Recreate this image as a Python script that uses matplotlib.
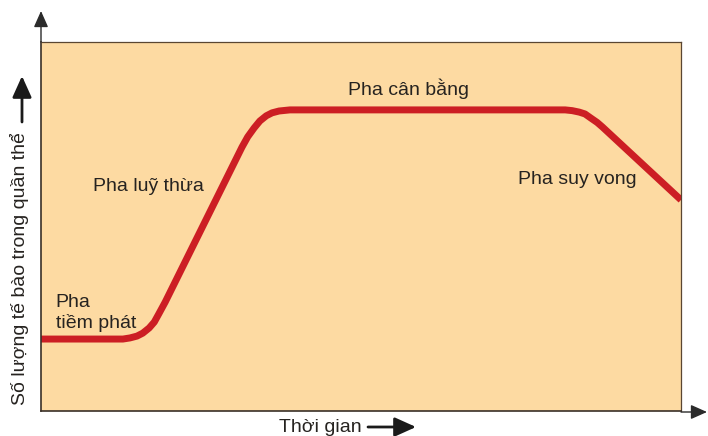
import matplotlib
matplotlib.use("Agg")
import matplotlib.pyplot as plt

# Growth curve of a bacterial population (time vs. cell count, arbitrary units 0-100)
time = [0.0, 12.8, 13.9, 15.0, 15.9, 16.9, 17.7, 18.4, 19.4,
        31.4, 32.3, 33.3, 34.2, 35.2, 36.1, 37.2, 38.9,
        81.9, 83.0, 84.1, 85.0, 85.9, 86.9, 87.7, 100.0]
population = [19.5, 19.5, 19.8, 20.3, 21.1, 22.5, 24.1, 26.3, 29.5,
              71.5, 74.3, 76.7, 78.6, 80.0, 80.8, 81.3, 81.6,
              81.6, 81.4, 81.0, 80.5, 79.4, 78.2, 77.0, 57.2]

phase_labels = ["Pha", "tiềm phát", "Pha luỹ thừa", "Pha cân bằng", "Pha suy vong"]
x_label = "Thời gian"
y_label = "Số lượng tế bào trong quần thể"

W, H = 708, 436
plt.rcParams["font.family"] = ["Liberation Sans", "DejaVu Sans"]

fig = plt.figure(figsize=(W / 100, H / 100), dpi=100)
fig.patch.set_facecolor("white")


def fp(x, y):
    """Pixel position (from top-left) -> figure fraction."""
    return x / W, 1 - y / H


left, top, right, bottom = 41, 42, 681, 411
ax = fig.add_axes([left / W, 1 - bottom / H, (right - left) / W, (bottom - top) / H])
ax.set_facecolor("#FDDAA2")
ax.set_xlim(0, 100)
ax.set_ylim(0, 100)
ax.set_xticks([])
ax.set_yticks([])
for side in ["top", "right"]:
    ax.spines[side].set_color("#5a4632")
    ax.spines[side].set_linewidth(0.9)
for side in ["left", "bottom"]:
    ax.spines[side].set_color("#3a3028")
    ax.spines[side].set_linewidth(1.2)

ax.plot(time, population, color="#CC1E24", linewidth=5.0,
        solid_capstyle="butt", solid_joinstyle="round")

txt = dict(fontsize=14, color="#262320", ha="left", va="baseline")
ax.text(2.3, 28.2, phase_labels[0], **txt)
ax.text(2.3, 22.5, phase_labels[1], **txt)
ax.text(8.1, 59.6, phase_labels[2], **txt)
ax.text(48.0, 85.6, phase_labels[3], **txt)
ax.text(74.5, 61.5, phase_labels[4], **txt)

# Axis arrows extending beyond the box
ax_arrow = dict(arrowstyle="-|>,head_length=0.9,head_width=0.4", color="#2b2b2b",
                lw=1.0, mutation_scale=11, shrinkA=0, shrinkB=0)
fig.add_artist(matplotlib.patches.FancyArrowPatch(
    fp(left, top), fp(left, 11), transform=fig.transFigure, **ax_arrow))
fig.add_artist(matplotlib.patches.FancyArrowPatch(
    fp(right, bottom + 1), fp(707, bottom + 1), transform=fig.transFigure, **ax_arrow))

# Axis titles with their arrows
lab_arrow = dict(arrowstyle="-|>,head_length=1.0,head_width=0.45", color="#1a1a1a",
                 lw=2.0, mutation_scale=13, shrinkA=0, shrinkB=0)
fig.text(*fp(20, 269), y_label, rotation=90, ha="center", va="center",
         fontsize=14, color="#262320")
fig.add_artist(matplotlib.patches.FancyArrowPatch(
    fp(22, 122), fp(22, 76), transform=fig.transFigure, **lab_arrow))

fig.text(*fp(279, 432), x_label, ha="left", va="baseline", fontsize=14, color="#262320")
fig.add_artist(matplotlib.patches.FancyArrowPatch(
    fp(368, 427), fp(416, 427), transform=fig.transFigure, **lab_arrow))

fig.savefig("out.png", dpi=100)
